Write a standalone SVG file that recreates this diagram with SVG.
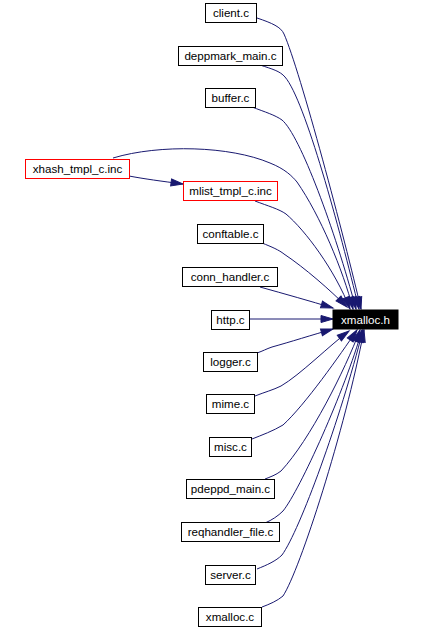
<svg xmlns="http://www.w3.org/2000/svg" width="422" height="630" viewBox="0 0 422 630">
<style>
.n rect{fill:#fff;stroke:#000;stroke-width:1}
.n.r rect{stroke:#f00}
.n text{font-family:"Liberation Sans",Arial,Helvetica,sans-serif;font-size:11.6px;text-anchor:middle;fill:#000}
#n_xmalloc_h rect{fill:#000;stroke:#000}
#n_xmalloc_h text{fill:#fff}
.e path{fill:none;stroke:#191970;stroke-width:1;marker-end:url(#ah)}
</style>
<defs>
<marker id="ah" markerUnits="userSpaceOnUse" markerWidth="14" markerHeight="10" refX="12" refY="4" orient="auto" overflow="visible">
<path d="M0,0.5 L12,4 L0,7.5 z" fill="#191970" stroke="#191970" stroke-width="1"/>
</marker>
</defs>
<rect width="422" height="630" fill="#fff"/>
<g id="edges" class="e">
<path d="M257,18 C272,23 281,27 284,34 C300,70 345,240 361,309"/>
<path d="M260,65 C272,69 280,71 285,77 C305,100 340,230 359,309"/>
<path d="M252,107 C265,112 275,115 282,120 C300,135 335,230 356,309"/>
<path d="M113,158 C160,144 230,146 270,163 C285,169 292,176 297,182 C320,215 343,270 353,309"/>
<path d="M255,201 C268,206 279,209 286,214 C305,230 335,270 350,309"/>
<path d="M262,243 C272,247 279,250 284,254 C305,268 330,290 347,307"/>
<path d="M260,287 C285,294 310,301 333,308"/>
<path d="M249,319 L333,319"/>
<path d="M257,353 C263,351 266,349 272,347 C290,342 312,335 333,329"/>
<path d="M255,396 C265,392 273,390 281,386 C300,375 330,345 349,331"/>
<path d="M252,439 C262,435 273,431 283,425 C305,405 340,355 357,330"/>
<path d="M265,479 C270,477 276,475 281,471 C310,440 345,370 360,330"/>
<path d="M265,523 C272,520 278,516 283,511 C300,490 345,390 362,330"/>
<path d="M257,569 C267,565 276,561 282,555 C300,530 340,420 363,330"/>
<path d="M262,607 C270,604 277,601 283,596 C300,570 345,430 364,330"/>
<path d="M129,176 C145,179 160,181 183,184"/>
</g>
<g id="n_client_c" class="n"><rect x="205.5" y="3.5" width="51" height="19"/><text x="231" y="17">client.c</text></g>
<g id="n_deppmark_main_c" class="n"><rect x="178.5" y="46.5" width="104" height="19"/><text x="230.5" y="60">deppmark_main.c</text></g>
<g id="n_buffer_c" class="n"><rect x="205.5" y="88.5" width="50" height="19"/><text x="230.5" y="102">buffer.c</text></g>
<g id="n_xhash_tmpl_c_inc" class="n r"><rect x="25.5" y="159.5" width="104" height="19"/><text x="77.5" y="173">xhash_tmpl_c.inc</text></g>
<g id="n_mlist_tmpl_c_inc" class="n r"><rect x="183.5" y="181.5" width="94" height="19"/><text x="230.5" y="195">mlist_tmpl_c.inc</text></g>
<g id="n_conftable_c" class="n"><rect x="197.5" y="224.5" width="66" height="19"/><text x="230.5" y="238">conftable.c</text></g>
<g id="n_conn_handler_c" class="n"><rect x="182.5" y="267.5" width="95" height="19"/><text x="230" y="281">conn_handler.c</text></g>
<g id="n_http_c" class="n"><rect x="211.5" y="310.5" width="38" height="19"/><text x="230.5" y="324">http.c</text></g>
<g id="n_xmalloc_h" class="n"><rect x="333" y="310" width="65" height="19"/><text x="365.5" y="324">xmalloc.h</text></g>
<g id="n_logger_c" class="n"><rect x="203.5" y="352.5" width="54" height="19"/><text x="230.5" y="366">logger.c</text></g>
<g id="n_mime_c" class="n"><rect x="206.5" y="394.5" width="48" height="19"/><text x="230.5" y="408">mime.c</text></g>
<g id="n_misc_c" class="n"><rect x="209.5" y="437.5" width="42" height="19"/><text x="230.5" y="451">misc.c</text></g>
<g id="n_pdeppd_main_c" class="n"><rect x="186.5" y="479.5" width="88" height="19"/><text x="230.5" y="493">pdeppd_main.c</text></g>
<g id="n_reqhandler_file_c" class="n"><rect x="181.5" y="522.5" width="98" height="19"/><text x="230.5" y="536">reqhandler_file.c</text></g>
<g id="n_server_c" class="n"><rect x="205.5" y="565.5" width="50" height="19"/><text x="230.5" y="579">server.c</text></g>
<g id="n_xmalloc_c" class="n"><rect x="198.5" y="607.5" width="63" height="19"/><text x="230" y="621">xmalloc.c</text></g>
</svg>
